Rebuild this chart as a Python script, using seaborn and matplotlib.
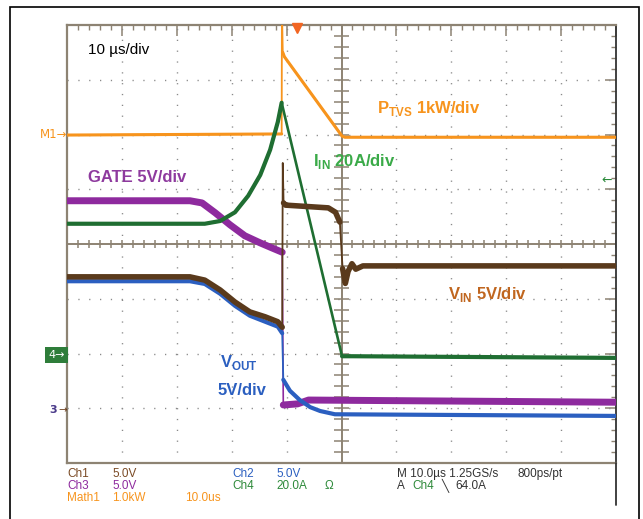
import matplotlib
matplotlib.use("Agg")
import numpy as np
import pandas as pd
import matplotlib.pyplot as plt
import seaborn as sns
from matplotlib.patches import Rectangle
from matplotlib.lines import Line2D

# scope screen: time in us (10 us/div), level in divisions (0 = bottom, 8 = top)
# seg: points in the same segment are the slow (noisy, thick) parts of a trace
pt_t = [0, 39.1, 39.15, 39.3, 39.6, 50.1, 50.6, 100]
pt_v = [5.99, 6.01, 8.3, 7.5, 7.42, 5.97, 5.95, 5.95]
pt_seg = [0, 0, 1, 2, 2, 2, 2, 2]

iin_t = [0, 25.1, 27.9, 30.6, 33.0, 35.2, 37.0, 38.4, 39.1, 50.1, 52.0, 100]
iin_v = [4.37, 4.37, 4.42, 4.58, 4.88, 5.26, 5.72, 6.23, 6.58, 1.95, 1.95, 1.92]
iin_seg = [0, 0, 0, 0, 0, 0, 0, 0, 0, 1, 1, 1]

gate_t = [0, 22.4, 24.6, 27.0, 29.7, 32.4, 35.2, 37.3, 39.2, 39.4, 42.0, 44.0, 100]
gate_v = [4.79, 4.79, 4.75, 4.57, 4.35, 4.15, 4.02, 3.93, 3.85, 1.06, 1.08, 1.15, 1.11]
gate_seg = [0, 0, 0, 0, 0, 0, 0, 0, 0, 1, 1, 1, 1]

vin_t = [0, 22.4, 25.1, 27.9, 30.6, 33.3, 36.1, 38.4, 39.2, 39.3, 39.45, 39.8,
         47.6, 48.9, 49.7, 50.2, 50.7, 51.2, 51.9, 52.6, 53.9, 100]
vin_v = [3.40, 3.40, 3.34, 3.16, 2.94, 2.76, 2.67, 2.58, 2.48, 5.48, 4.75, 4.71,
         4.66, 4.58, 4.40, 3.55, 3.28, 3.50, 3.64, 3.54, 3.60, 3.60]
vin_seg = [0, 0, 0, 0, 0, 0, 0, 0, 0, 1, 2, 2, 2, 2, 2, 3, 3, 3, 3, 3, 3, 3]

vout_t = [0, 22.4, 25.1, 27.9, 30.6, 33.3, 36.1, 38.4, 39.2, 39.4, 40.6, 42.4,
          44.3, 46.1, 48.8, 100]
vout_v = [3.32, 3.32, 3.27, 3.09, 2.87, 2.69, 2.58, 2.49, 2.37, 1.52, 1.32, 1.15,
          1.02, 0.95, 0.89, 0.86]
vout_seg = [0, 0, 0, 0, 0, 0, 0, 0, 0, 1, 1, 1, 1, 1, 1, 1]

# name, t, level, seg, colour, thin lw, thick lw
traces = [
    ("P_TVS", pt_t, pt_v, pt_seg, "#f7941d", 1.3, 2.2),
    ("GATE", gate_t, gate_v, gate_seg, "#8e2a9e", 1.2, 5.0),
    ("I_IN", iin_t, iin_v, iin_seg, "#1f6e32", 1.9, 3.0),
    ("V_OUT", vout_t, vout_v, vout_seg, "#2b5fc0", 1.3, 3.0),
    ("V_IN", vin_t, vin_v, vin_seg, "#5a3a1c", 1.3, 4.0),
]

sns.set_style("white")
plt.rcParams["font.family"] = ["Liberation Sans", "DejaVu Sans"]
plt.rcParams["mathtext.fontset"] = "custom"
plt.rcParams["mathtext.rm"] = "Liberation Sans:bold"
plt.rcParams["mathtext.bf"] = "Liberation Sans:bold"

W, H = 643, 519
GRAT = "#8d8373"
fig = plt.figure(figsize=(W / 100, H / 100), dpi=100)
fig.patch.set_facecolor("white")
ax = fig.add_axes([67 / W, 56 / H, 549 / W, 438 / H])
ax.set_xlim(0, 100)
ax.set_ylim(0, 8)

# graticule
for x in range(10, 100, 10):
    if x != 50:
        ax.axvline(x, color="#8a8a8a", lw=1.0, ls=(0, (0.9, 6.9)), zorder=1)
for y in range(1, 8):
    if y != 4:
        ax.axhline(y, color="#8a8a8a", lw=1.0, ls=(0, (0.9, 6.9)), zorder=1)
ax.axvline(50, color=GRAT, lw=1.4, zorder=1)
ax.axhline(4, color=GRAT, lw=1.4, zorder=1)
mt = np.arange(0, 100.1, 2)
ml = np.arange(0, 8.01, 0.2)
ax.vlines(mt, 4 - 0.075, 4 + 0.075, color=GRAT, lw=1.1, zorder=1)
ax.hlines(ml, 50 - 1.3, 50 + 1.3, color=GRAT, lw=1.1, zorder=1)

ax.set_xticks(range(0, 101, 10))
ax.set_yticks(range(0, 9))
ax.set_xticks(mt, minor=True)
ax.set_yticks(ml, minor=True)
ax.tick_params(which="both", direction="in", top=True, right=True,
               labelbottom=False, labelleft=False, color=GRAT)
ax.tick_params(which="major", length=8, width=1.1)
ax.tick_params(which="minor", length=3.6, width=1.0)
for s in ["top", "left", "bottom"]:
    ax.spines[s].set_color(GRAT)
    ax.spines[s].set_linewidth(1.6)
ax.spines["right"].set_color("#333333")
ax.spines["right"].set_linewidth(1.3)

for name, t, v, seg, c, lw_thin, lw_thick in traces:
    df = pd.DataFrame({"t": t, "level": v, "seg": seg})
    sns.lineplot(data=df, x="t", y="level", ax=ax, color=c, lw=lw_thin,
                 sort=False, estimator=None, zorder=3)
    sns.lineplot(data=df, x="t", y="level", units="seg", ax=ax, color=c,
                 lw=lw_thick, sort=False, estimator=None, zorder=3)
ax.set_xlabel("")
ax.set_ylabel("")

# trace labels
ax.text(3.8, 7.54, "10 \u00b5s/div", fontsize=11, color="black", va="center")
ax.text(56.5, 6.48, r"P$_{\mathrm{TVS}}$ 1kW/div", fontsize=12, fontweight="bold",
        color="#f7941d", va="center")
ax.text(44.8, 5.5, r"I$_{\mathrm{IN}}$ 20A/div", fontsize=12, fontweight="bold",
        color="#3aaa48", va="center")
ax.text(3.8, 5.22, "GATE 5V/div", fontsize=12, fontweight="bold",
        color="#8e3a9e", va="center")
ax.text(69.4, 3.07, r"V$_{\mathrm{IN}}$ 5V/div", fontsize=12, fontweight="bold",
        color="#c0661f", va="center")
ax.text(27.9, 1.84, r"V$_{\mathrm{OUT}}$", fontsize=12, fontweight="bold",
        color="#2b5fc0", va="center")
ax.text(27.5, 1.33, "5V/div", fontsize=12, fontweight="bold",
        color="#2b5fc0", va="center")

# trigger markers
ax.plot([41.9], [7.94], marker="v", color="#f26522", ms=7, clip_on=False, zorder=5)
ax.text(99.3, 5.17, "\u2190", fontsize=9, color="#2a8a3a", va="center", ha="right",
        family="DejaVu Sans")


def fx(px):
    return px / W


def fy(py):
    return 1 - py / H


# ground markers on the left
fig.text(fx(67), fy(135), "M1\u2192", fontsize=8.5, color="#f7941d", ha="right",
         va="center", family="DejaVu Sans")
fig.text(fx(65), fy(355), "4\u2192", fontsize=8, color="white", ha="right",
         va="center", family="DejaVu Sans",
         bbox=dict(boxstyle="square,pad=0.3", fc="#2e7d3a", ec="none"))
fig.text(fx(67), fy(410), "\u2192", fontsize=7.5, color="#6a3d1c", ha="right",
         va="center", family="DejaVu Sans")
fig.text(fx(57), fy(410), "3", fontsize=8, color="#4a3a8a", ha="right",
         va="center", fontweight="bold", family="DejaVu Sans")

# readout
narrow = ["Liberation Sans Narrow", "Liberation Sans", "DejaVu Sans"]
rows = [
    [(67, "Ch1", "#7a4a24"), (112, "5.0V", "#7a4a24"), (232, "Ch2", "#2b5fc0"),
     (276, "5.0V", "#2b5fc0"), (397, "M 10.0\u00b5s 1.25GS/s", "#333333"),
     (517, "800ps/pt", "#333333")],
    [(67, "Ch3", "#8e2a9e"), (112, "5.0V", "#8e2a9e"), (232, "Ch4", "#2e8a3a"),
     (276, "20.0A", "#2e8a3a"), (325, "\u03a9", "#2e8a3a"), (397, "A", "#333333"),
     (412, "Ch4", "#2e8a3a"), (442, "\u2572", "#333333"), (455, "64.0A", "#333333")],
    [(67, "Math1", "#f7941d"), (112, "1.0kW", "#f7941d"), (185, "10.0us", "#f7941d")],
]
for py, row in zip([474, 486, 498], rows):
    for px, s, c in row:
        fig.text(fx(px), fy(py), s, fontsize=8.5, color=c, va="center", family=narrow)

# frame lines
fig.add_artist(Line2D([fx(616), fx(616)], [fy(463), fy(505)], color="#333333", lw=1.3))
fig.add_artist(Rectangle((fx(10), fy(519 + 5)), fx(629), (519 + 5 - 7) / H,
                         fill=False, ec="black", lw=1.2, transform=fig.transFigure))

fig.savefig("out.png", dpi=100)
